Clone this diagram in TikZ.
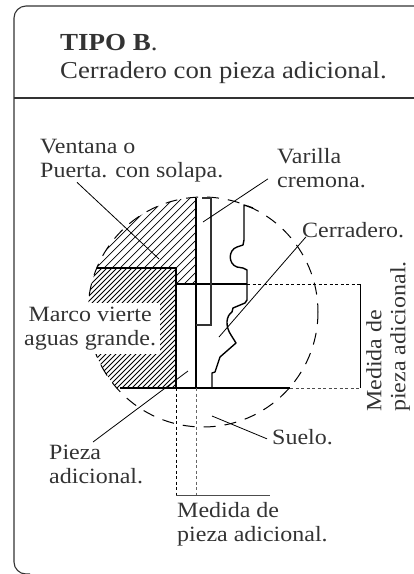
\documentclass[tikz,border=0pt]{standalone}
\usepackage{fontspec}
\setmainfont[FakeStretch=1.1]{Liberation Serif}
\usetikzlibrary{positioning}
\definecolor{inkgray}{HTML}{333333}

\tikzset{
    label text/.style={inner sep=0pt, anchor=north west, align=left, text=inkgray,
        font=\fontsize{21.8}{24}\selectfont},
    leader/.style={black, line width=0.8pt},
    guide/.style={black, line width=0.8pt, dash pattern=on 3pt off 2.5pt},
    profile/.style={black, line width=1.4pt, line join=round}
}

\begin{document}
\begin{tikzpicture}[x=1pt, y=-1pt]
    \useasboundingbox (0,0) rectangle (414,574);

    % Frame
    \draw[inkgray, line width=1.1pt, rounded corners=12pt] (414,6) -- (14,6) -- (14,574) -- (30,574);
    \draw[inkgray, line width=1.1pt] (14,98) -- (414,98);

    % Dashed circle
    \draw[black, line width=1pt, dash pattern=on 12pt off 9pt] (203,312) circle (115);

    % Window hatch
    \begin{scope}
        \clip (203,312) circle (115);
        \clip (196,190) -- (196,284) -- (176,284) -- (176,268) -- (80,268) -- (80,190) -- cycle;
        \foreach \c in {260,268,...,500}
            \draw[black, line width=0.7pt] (\c-180,180) -- (\c-400,400);
    \end{scope}

    % Frame hatch
    \begin{scope}
        \clip (203,312) circle (115);
        \clip (176,268) rectangle (80,388);
        \foreach \c in {340,345,...,580}
            \draw[black, line width=1pt] (\c-250,250) -- (\c-400,400);
    \end{scope}

    % Marco label hides what lies under it
    \node[label text, fill=white, inner xsep=4pt, inner ysep=4pt, align=center] (marco) at (20,303) {Marco vierte\\aguas grande.};

    % Walls
    \draw[black, line width=1.5pt] (97,268) -- (176,268) -- (176,388);
    \draw[black, line width=1.5pt] (176,284) -- (247,284);
    \draw[black, line width=1.5pt] (196,198) -- (196,388);
    \draw[black, line width=1.5pt] (120,388) -- (290,388);

    % Rod
    \draw[black!80, line width=2.2pt] (202,198) -- (211,198) -- (211,325) -- (196,325);

    % Profile
    \draw[profile] (253,208) -- (244,205) -- (244,240) -- (243,245) -- (237,247)
        .. controls (228,250) and (228,264) .. (237,267)
        -- (243,268) -- (247,270) -- (247,300) -- (245,303) -- (233,308) -- (232,312)
        .. controls (226,316) and (225,326) .. (231,335)
        -- (236,343) -- (220,357) -- (215,372) -- (212,373) -- (212,388);

    % Measure guides
    \draw[guide] (247,284) -- (360,284);
    \draw[guide, black!70] (290,388) -- (360,388);
    \draw[black, line width=0.8pt] (360,284) -- (360,388);
    \draw[guide] (176,388) -- (176,495);
    \draw[guide, black!60] (196,388) -- (196,495);
    \draw[black!70, line width=0.9pt] (176,495) -- (270,495);

    % Labels
    \node[label text, anchor=base west, font=\fontsize{24.5}{24}\selectfont] (tipo) at (60,50) {\textbf{TIPO B}.};
    \node[label text, anchor=base west, font=\fontsize{24.3}{24}\selectfont] (titulo) at (60,78) {Cerradero con pieza adicional.};
    \node[label text] (ventana) at (40,139) {Ventana o\\Puerta. con solapa.};
    \node[label text] (varilla) at (277,148) {Varilla\\cremona.};
    \node[label text] (cerradero) at (302,222) {Cerradero.};
    \node[label text] (suelo) at (272,429) {Suelo.};
    \node[label text] (pieza) at (49,445) {Pieza\\adicional.};
    \node[label text] (medidah) at (177,502) {Medida de\\pieza adicional.};
    \node[label text, rotate=90, anchor=north west] (medidav) at (366,412) {Medida de\\pieza adicional.};

    % Leaders
    \coordinate (ventanatip) at (159,259);
    \coordinate (varillatip) at (203,222);
    \coordinate (cerraderotip) at (219,337);
    \coordinate (piezatip) at (188,371);
    \coordinate (suelotip) at (212,416);
    \draw[leader] ([shift={(37,0)}]ventana.south west) -- (ventanatip);
    \draw[leader] ([shift={(-9,-9)}]varilla.south west) -- (varillatip);
    \draw[leader] ([shift={(4,-1)}]cerradero.south west) -- (cerraderotip);
    \draw[leader] ([shift={(44,-3)}]pieza.north west) -- (piezatip);
    \draw[leader] ([shift={(-5,-6)}]suelo.south west) -- (suelotip);
\end{tikzpicture}
\end{document}
